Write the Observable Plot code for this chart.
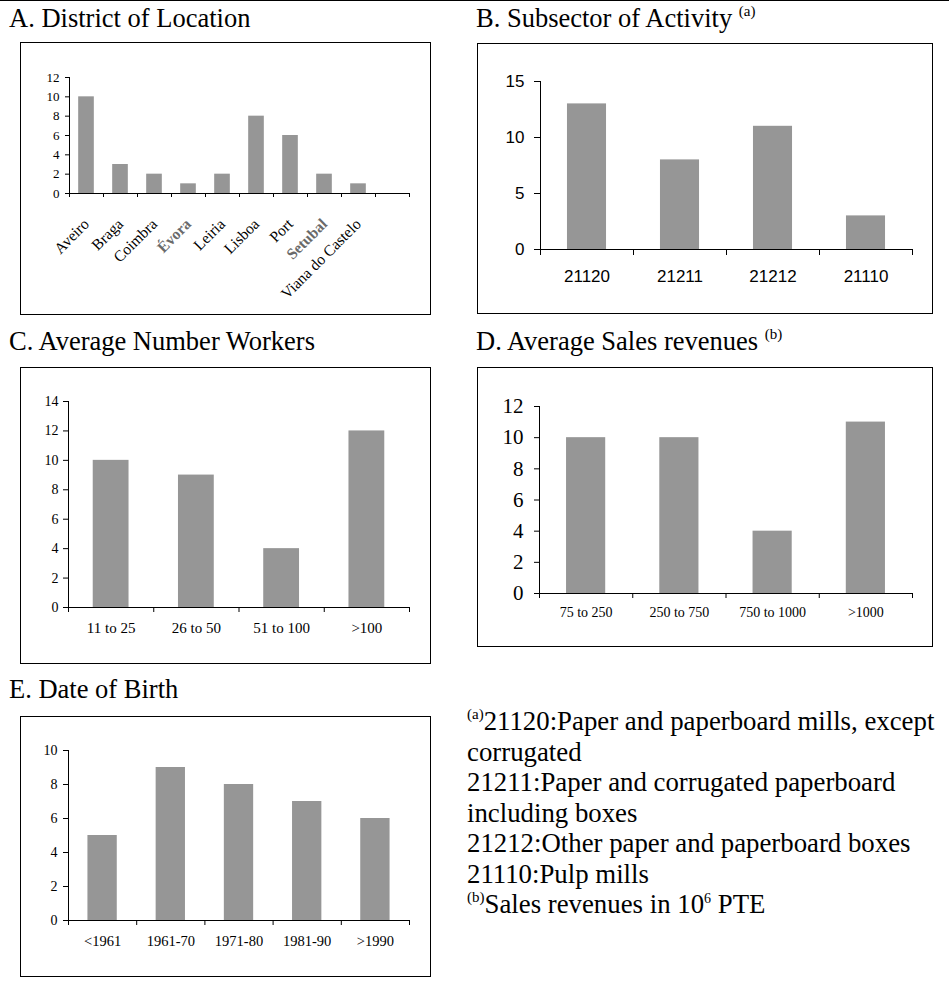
<!DOCTYPE html>
<html><head><meta charset="utf-8">
<script src="https://cdn.jsdelivr.net/npm/d3@7"></script>
<script src="https://cdn.jsdelivr.net/npm/@observablehq/plot@0.6"></script>
<style>
body{margin:0;background:#fff;}
#page{position:relative;width:949px;height:983px;overflow:hidden;font-family:"Liberation Serif","Times New Roman",serif;color:#000;background:#fff;}
.abs{position:absolute;}
.title{font-size:26.5px;line-height:26px;white-space:nowrap;}
.sup{font-size:15px;line-height:0;position:relative;top:-11px;}
.box{position:absolute;border:1px solid #000;box-sizing:border-box;}
.notes{font-size:26.8px;line-height:30.5px;white-space:nowrap;}
</style></head><body>
<div id="page">
  <div class="abs" style="left:0;top:0;width:949px;height:1px;background:#000"></div>
  <div class="abs title" style="left:9px;top:5px">A. District of Location</div>
  <div class="abs title" style="left:476px;top:5px">B. Subsector of Activity <span class="sup">(a)</span></div>
  <div class="abs title" style="left:9px;top:328px">C. Average Number Workers</div>
  <div class="abs title" style="left:476px;top:328px">D. Average Sales revenues <span class="sup">(b)</span></div>
  <div class="abs title" style="left:9px;top:676px">E. Date of Birth</div>
  <div class="box" style="left:20px;top:42px;width:411px;height:273px"></div>
  <div class="box" style="left:477px;top:43px;width:456px;height:271px"></div>
  <div class="box" style="left:20px;top:367px;width:411px;height:297px"></div>
  <div class="box" style="left:477px;top:367px;width:456px;height:280px"></div>
  <div class="box" style="left:20px;top:716px;width:411px;height:261px"></div>
  <div class="abs notes" style="left:467px;top:706px"><span class="sup">(a)</span>21120:Paper and paperboard mills, except<br>corrugated<br>21211:Paper and corrugated paperboard<br>including boxes<br>21212:Other paper and paperboard boxes<br>21110:Pulp mills<br><span class="sup">(b)</span>Sales revenues in 10<span class="sup" style="font-size:14px;top:-10px">6</span> PTE</div>
</div>
<script>
// ---- data ----
const districts = ["Aveiro","Braga","Coimbra","Évora","Leiria","Lisboa","Port","Setubal","Viana do Castelo",""];
const districtCounts = [10,3,2,1,2,8,6,2,1,null];
const blurredDistricts = ["Évora","Setubal"];
const districtTicks = [0,2,4,6,8,10,12];

const subsectors = ["21120","21211","21212","21110"];
const subsectorCounts = [13,8,11,3];
const subsectorTicks = [0,5,10,15];

const workerClasses = ["11 to 25","26 to 50","51 to 100",">100"];
const workerCounts = [10,9,4,12];
const workerTicks = [0,2,4,6,8,10,12,14];

const salesClasses = ["75 to 250","250 to 750","750 to 1000",">1000"];
const salesCounts = [10,10,4,11];
const salesTicks = [0,2,4,6,8,10,12];

const birthClasses = ["<1961","1961-70","1971-80","1981-90",">1990"];
const birthCounts = [5,9,8,7,6];
const birthTicks = [0,2,4,6,8,10];

const SERIF = "Liberation Serif, Times New Roman, serif";
const SANS = "Liberation Sans, Arial, sans-serif";

function barChart(o) {
  const n = o.cats.length;
  const yMax = o.yTicks[o.yTicks.length - 1];
  const data = o.cats.map((c, i) => ({c, i, v: o.vals[i]})).filter(d => d.v != null);
  const gray = o.gray || [];
  const labelOpts = {
    ticks: d3.range(n).map(i => i + 0.5),
    tickSize: 0,
    tickPadding: o.xLabelPad,
    fontSize: o.xFontSize,
    fontFamily: o.xFont,
    label: null
  };
  if (o.rotate) labelOpts.tickRotate = o.rotate;
  const marks = [
    Plot.rectY(data, {x1: d => d.i + o.pad, x2: d => d.i + 1 - o.pad, y1: 0, y2: "v", fill: "#969696"}),
    Plot.ruleX([0], {y1: 0, y2: yMax, stroke: "#000"}),
    Plot.ruleY([0], {x1: 0, x2: n, stroke: "#000"}),
    Plot.axisY({ticks: o.yTicks, tickSize: o.yTickSize, tickPadding: o.yTickPad, fontSize: o.yFontSize, fontFamily: o.yFont, label: null, tickFormat: d => String(d)}),
    Plot.axisX({ticks: d3.range(n + 1), tickSize: o.xTickSize, tickFormat: () => "", label: null}),
    Plot.axisX({...labelOpts, tickFormat: d => { const c = o.cats[Math.floor(d)]; return gray.includes(c) ? "" : c; }})
  ];
  if (gray.length) {
    marks.push(Plot.axisX({...labelOpts, fill: "#6a6a6a", fontWeight: "bold", tickFormat: d => { const c = o.cats[Math.floor(d)]; return gray.includes(c) ? c : ""; }}));
  }
  const m = o.m;
  const svg = Plot.plot({
    width: m.l + o.plotW + m.r,
    height: m.t + o.plotH + m.b,
    marginLeft: m.l, marginRight: m.r, marginTop: m.t, marginBottom: m.b,
    x: {type: "linear", domain: [0, n], label: null},
    y: {type: "linear", domain: [0, yMax], label: null},
    style: {background: "transparent", color: "#000", overflow: "visible"},
    marks
  });
  svg.style.position = "absolute";
  svg.style.left = (o.axisX - m.l) + "px";
  svg.style.top = (o.yTopPx - m.t) + "px";
  svg.style.maxWidth = "none";
  document.getElementById("page").appendChild(svg);
}

barChart({cats: districts, vals: districtCounts, gray: blurredDistricts, yTicks: districtTicks,
  axisX: 69, plotW: 340, yTopPx: 77, plotH: 116, m: {l: 40, r: 10, t: 10, b: 110}, pad: 0.27,
  yFont: SERIF, yFontSize: 13, yTickSize: 4, yTickPad: 6,
  xFont: SERIF, xFontSize: 15.5, xTickSize: 4, xLabelPad: 28, rotate: -45});

barChart({cats: subsectors, vals: subsectorCounts, yTicks: subsectorTicks,
  axisX: 540, plotW: 372, yTopPx: 81, plotH: 168, m: {l: 45, r: 10, t: 12, b: 50}, pad: 0.29,
  yFont: SANS, yFontSize: 17, yTickSize: 6, yTickPad: 10,
  xFont: SANS, xFontSize: 17, xTickSize: 6, xLabelPad: 20});

barChart({cats: workerClasses, vals: workerCounts, yTicks: workerTicks,
  axisX: 68, plotW: 341, yTopPx: 401, plotH: 206, m: {l: 40, r: 10, t: 10, b: 45}, pad: 0.29,
  yFont: SERIF, yFontSize: 14, yTickSize: 5, yTickPad: 5,
  xFont: SERIF, xFontSize: 15, xTickSize: 5, xLabelPad: 15});

barChart({cats: salesClasses, vals: salesCounts, yTicks: salesTicks,
  axisX: 539, plotW: 373, yTopPx: 406, plotH: 187, m: {l: 45, r: 10, t: 12, b: 40}, pad: 0.29,
  yFont: SERIF, yFontSize: 21, yTickSize: 5, yTickPad: 11,
  xFont: SERIF, xFontSize: 14, xTickSize: 5, xLabelPad: 14});

barChart({cats: birthClasses, vals: birthCounts, yTicks: birthTicks,
  axisX: 68, plotW: 341, yTopPx: 750, plotH: 170, m: {l: 40, r: 10, t: 10, b: 45}, pad: 0.285,
  yFont: SERIF, yFontSize: 14, yTickSize: 5, yTickPad: 6,
  xFont: SERIF, xFontSize: 14.5, xTickSize: 5, xLabelPad: 15});
</script>
</body></html>
